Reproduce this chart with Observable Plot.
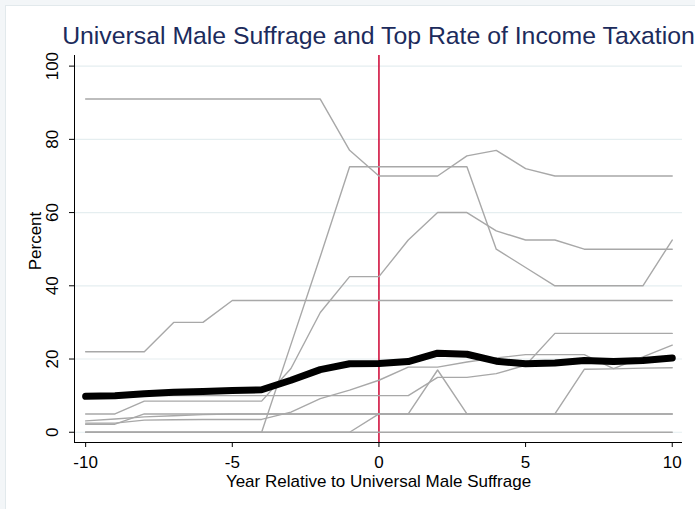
<!DOCTYPE html>
<html>
<head>
<meta charset="utf-8">
<script src="https://cdn.jsdelivr.net/npm/d3@7"></script>
<script src="https://cdn.jsdelivr.net/npm/@observablehq/plot@0.6"></script>
<style>
  html, body { margin: 0; padding: 0; background: #f3f6f8; width: 695px; height: 509px; overflow: hidden; }
  #panel { position: absolute; left: 5px; top: 5px; right: 0; bottom: 0; background: #fff;
           border-left: 1px solid #e2e9ec; border-top: 1px solid #e2e9ec; }
  #chart { position: absolute; left: 0; top: 0; }
</style>
</head>
<body>
<div id="panel"></div>
<div id="chart"></div>
<script>
// Years relative to the introduction of universal male suffrage
const years = [-10, -9, -8, -7, -6, -5, -4, -3, -2, -1, 0, 1, 2, 3, 4, 5, 6, 7, 8, 9, 10];
const xTicks = [-10, -5, 0, 5, 10];
const yTicks = [0, 20, 40, 60, 80, 100];

// Top marginal income tax rate (percent), one array per country
const rateA = [91, 91, 91, 91, 91, 91, 91, 91, 91, 77, 70, 70, 70, 75.5, 77, 72, 70, 70, 70, 70, 70];
const rateB = [0, 0, 0, 0, 0, 0, 0, 24, 48, 72.5, 72.5, 72.5, 72.5, 72.5, 50, 45, 40, 40, 40, 40, 52.5];
const rateC = [5, 5, 8.5, 8.5, 8.5, 8.5, 8.5, 17.4, 32.7, 42.5, 42.5, 52.5, 60, 60, 55, 52.5, 52.5, 50, 50, 50, 50];
const rateD = [22, 22, 22, 30, 30, 36, 36, 36, 36, 36, 36, 36, 36, 36, 36, 36, 36, 36, 36, 36, 36];
const rateE = [10, 10, 10, 10, 10, 10, 10, 10, 10, 10, 10, 10, 15, 15, 16, 18.3, 27, 27, 27, 27, 27];
const rateF = [2.5, 2.5, 3.3, 3.4, 3.5, 3.5, 3.5, 5.5, 9.2, 11.5, 14.2, 17.8, 17.8, 19.2, 20.3, 21.2, 21.2, 21.2, 17.4, 20.6, 23.8];
const rateG = [2.2, 2.2, 5, 5, 5, 5, 5, 5, 5, 5, 5, 5, 5, 5, 5, 5, 5, 17.2, 17.3, 17.5, 17.6];
const rateH = [3.1, 3.6, 4.2, 4.5, 4.8, 5, 5, 5, 5, 5, 5, 5, 5, 5, 5, 5, 5, 5, 5, 5, 5];
const rateI = [0, 0, 0, 0, 0, 0, 0, 0, 0, 0, 5, 5, 17, 5, 5, 5, 5, 5, 5, 5, 5];
const rateJ = [0, 0, 0, 0, 0, 0, 0, 0, 0, 0, 0, 0, 0, 0, 0, 0, 0, 0, 0, 0, 0];

// Cross-country average top rate
const rateAverage = [9.8, 10, 10.5, 10.9, 11.1, 11.4, 11.6, 14.2, 17.1, 18.7, 18.8, 19.3, 21.6, 21.3, 19.4, 18.7, 18.9, 19.6, 19.3, 19.6, 20.3];

const countries = { A: rateA, B: rateB, C: rateC, D: rateD, E: rateE, F: rateF, G: rateG, H: rateH, I: rateI, J: rateJ };
const countryRows = Object.entries(countries).flatMap(([country, values]) =>
  values.map((rate, i) => ({ country, year: years[i], rate })));
const averageRows = rateAverage.map((rate, i) => ({ year: years[i], rate }));

const xDomain = [-10.38, 10.35];
const yDomain = [-2.8, 102.9];
const font = "'Liberation Sans', Arial, Helvetica, sans-serif";
const plainNumber = d => String(d);

const chart = Plot.plot({
  width: 695,
  height: 509,
  marginLeft: 74,
  marginRight: 13,
  marginTop: 55,
  marginBottom: 67,
  style: { background: "transparent", fontFamily: font, fontSize: "17px", color: "#000", overflow: "visible" },
  x: { domain: xDomain },
  y: { domain: yDomain },
  marks: [
    Plot.gridY(yTicks, { stroke: "#e5eef0", strokeOpacity: 1, strokeWidth: 1.2 }),
    Plot.ruleX([0], { stroke: "#d1123f", strokeWidth: 1.6 }),
    Plot.line(countryRows, { x: "year", y: "rate", z: "country", stroke: "#a8a8a8", strokeWidth: 1.4 }),
    Plot.line(averageRows, { x: "year", y: "rate", stroke: "#000", strokeWidth: 7, strokeLinejoin: "round" }),
    Plot.ruleY([yDomain[0]], { stroke: "#000", strokeWidth: 1 }),
    Plot.ruleX([xDomain[0]], { stroke: "#000", strokeWidth: 1 }),
    Plot.axisX(xTicks, { tickSize: 5, tickPadding: 8, fontSize: 17, label: null, stroke: "#000", tickFormat: plainNumber }),
    Plot.axisY(yTicks, { tickSize: 5, tickPadding: 12, tickRotate: -90, fontSize: 17, label: null, stroke: "#000", tickFormat: plainNumber }),
    Plot.text(["Year Relative to Universal Male Suffrage"], {
      frameAnchor: "bottom", dy: 44, lineAnchor: "bottom", textAnchor: "middle", fontSize: 17, fill: "#000"
    }),
    Plot.text(["Percent"], {
      frameAnchor: "left", dx: -34, dy: -8, rotate: -90, lineAnchor: "bottom", textAnchor: "middle", fontSize: 17, fill: "#000"
    }),
    Plot.text(["Universal Male Suffrage and Top Rate of Income Taxation"], {
      frameAnchor: "top", dy: -12, lineAnchor: "bottom", textAnchor: "middle", fontSize: 24.8, fill: "#1c2b5c"
    })
  ]
});

document.getElementById("chart").appendChild(chart);
</script>
</body>
</html>
